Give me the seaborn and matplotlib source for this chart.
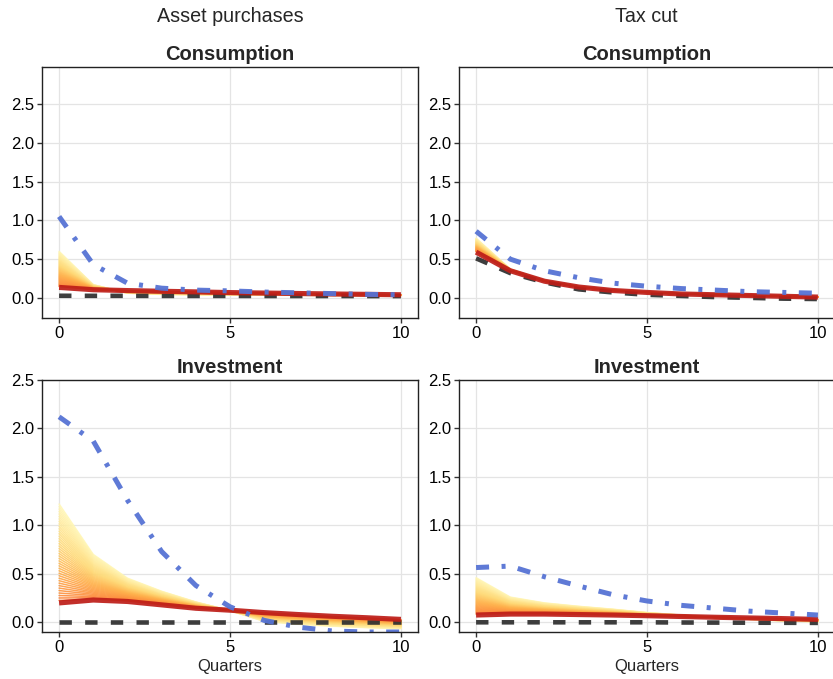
import matplotlib
matplotlib.use("Agg")
import matplotlib.pyplot as plt
import numpy as np
import pandas as pd
import seaborn as sns

# ---------------- data ----------------
quarters = list(range(11))
column_titles = ["Asset purchases", "Tax cut"]
row_titles = ["Consumption", "Investment"]

# Asset purchases - Consumption
ap_cons_blue = [1.05, 0.43, 0.19, 0.125, 0.10, 0.09, 0.075, 0.065, 0.055, 0.045, 0.04]
ap_cons_red = [0.135, 0.105, 0.094, 0.085, 0.077, 0.068, 0.062, 0.056, 0.05, 0.045, 0.04]
ap_cons_black = [0.027, 0.026, 0.026, 0.025, 0.025, 0.025, 0.024, 0.024, 0.024, 0.023, 0.023]
ap_cons_fan_edge = [0.60, 0.17, 0.06, 0.045, 0.04, 0.037, 0.035, 0.033, 0.031, 0.03, 0.03]

# Tax cut - Consumption
tc_cons_blue = [0.86, 0.50, 0.35, 0.26, 0.19, 0.15, 0.12, 0.10, 0.08, 0.07, 0.06]
tc_cons_red = [0.59, 0.35, 0.215, 0.14, 0.095, 0.07, 0.05, 0.04, 0.03, 0.02, 0.01]
tc_cons_black = [0.51, 0.32, 0.20, 0.11, 0.07, 0.04, 0.025, 0.01, 0.0, -0.01, -0.015]
tc_cons_fan_edge = [0.77, 0.37, 0.225, 0.145, 0.10, 0.075, 0.055, 0.045, 0.035, 0.025, 0.015]

# Asset purchases - Investment
ap_inv_blue = [2.12, 1.87, 1.26, 0.73, 0.38, 0.16, 0.02, -0.05, -0.09, -0.10, -0.10]
ap_inv_red = [0.20, 0.23, 0.215, 0.18, 0.145, 0.125, 0.10, 0.08, 0.062, 0.047, 0.03]
ap_inv_black = [0.005, 0.005, 0.005, 0.005, 0.005, 0.005, 0.005, 0.005, 0.005, 0.005, 0.005]
ap_inv_fan_edge = [1.22, 0.70, 0.455, 0.32, 0.21, 0.12, 0.01, -0.02, -0.04, -0.055, -0.065]

# Tax cut - Investment
tc_inv_blue = [0.565, 0.58, 0.47, 0.375, 0.285, 0.22, 0.175, 0.145, 0.115, 0.095, 0.075]
tc_inv_red = [0.075, 0.085, 0.085, 0.08, 0.075, 0.068, 0.06, 0.052, 0.045, 0.038, 0.03]
tc_inv_black = [0.0, 0.0, 0.0, 0.0, 0.0, 0.0, -0.002, -0.003, -0.004, -0.005, -0.006]
tc_inv_fan_edge = [0.46, 0.26, 0.20, 0.165, 0.135, 0.10, 0.075, 0.05, 0.03, 0.015, 0.005]

yticks_vals = [0.0, 0.5, 1.0, 1.5, 2.0, 2.5]
xticks_vals = [0, 5, 10]

panels = {
    (0, 0): (ap_cons_blue, ap_cons_red, ap_cons_black, ap_cons_fan_edge),
    (0, 1): (tc_cons_blue, tc_cons_red, tc_cons_black, tc_cons_fan_edge),
    (1, 0): (ap_inv_blue, ap_inv_red, ap_inv_black, ap_inv_fan_edge),
    (1, 1): (tc_inv_blue, tc_inv_red, tc_inv_black, tc_inv_fan_edge),
}

# ---------------- style ----------------
sns.set_theme(style="whitegrid")
plt.rcParams["font.family"] = ["Liberation Sans", "DejaVu Sans"]
plt.rcParams.update({
    "axes.edgecolor": "#222222",
    "axes.linewidth": 1.0,
    "grid.color": "#e4e4e4",
    "grid.linewidth": 0.9,
    "xtick.color": "#333333",
    "ytick.color": "#333333",
    "xtick.labelcolor": "black",
    "ytick.labelcolor": "black",
})

W, H = 833, 679
fig = plt.figure(figsize=(W / 100, H / 100), dpi=100)

col_x = [(42, 418), (459, 835)]
row_y = [(67, 318), (380, 632)]
ylims = [(-0.26, 2.98), (-0.1, 2.5)]

BLUE = "#5673d4"
RED = "#bd1d18"
BLACK = "#333333"
N_FAN = 40
cmap = plt.get_cmap("YlOrRd")

for (r, c), (blue, red, black, edge) in panels.items():
    x0, x1 = col_x[c]
    yt, yb = row_y[r]
    ax = fig.add_axes([x0 / W, 1 - yb / H, (x1 - x0) / W, (yb - yt) / H])

    red_a = np.asarray(red)
    edge_a = np.asarray(edge)
    ts = np.linspace(1.0, 1.0 / N_FAN, N_FAN)
    fan_rows = []
    for k, t in enumerate(ts):
        vals = red_a + t * (edge_a - red_a)
        for q, v in zip(quarters, vals):
            fan_rows.append({"q": q, "v": v, "member": k})
    fan_df = pd.DataFrame(fan_rows)
    fan_colors = [cmap(0.06 + 0.48 * (1 - t)) for t in ts]
    sns.lineplot(data=fan_df, x="q", y="v", hue="member", palette=fan_colors,
                 lw=1.1, legend=False, estimator=None, ax=ax, alpha=0.9)

    sns.lineplot(x=quarters, y=black, color=BLACK, lw=3.3, ax=ax, alpha=0.95)
    ax.get_lines()[-1].set_dashes([2.7, 2.9])
    sns.lineplot(x=quarters, y=red, color=RED, lw=3.7, ax=ax, alpha=0.92)
    ax.get_lines()[-1].set_solid_capstyle("butt")
    sns.lineplot(x=quarters, y=blue, color=BLUE, lw=3.6, ax=ax, alpha=0.95)
    ax.get_lines()[-1].set_dashes([2.6, 2.5, 0.8, 2.5])

    ax.set_xlim(-0.5, 10.5)
    ax.set_ylim(*ylims[r])
    ax.set_xticks(xticks_vals)
    ax.set_yticks(yticks_vals)
    ax.set_yticklabels([f"{v:.1f}" for v in yticks_vals])
    ax.tick_params(axis="both", which="major", length=3.5, width=1, pad=2,
                   labelsize=12, bottom=True, left=True)
    ax.grid(True)
    for s in ax.spines.values():
        s.set_visible(True)
        s.set_color("#222222")
        s.set_linewidth(1.0)
    if c == 1:
        ax.spines["right"].set_visible(False)
    ax.set_title(row_titles[r], fontsize=14.5, fontweight="bold", pad=5)
    ax.set_ylabel("")
    if r == 1:
        ax.set_xlabel("Quarters", fontsize=12, labelpad=3)
    else:
        ax.set_xlabel("")

for c, title in enumerate(column_titles):
    x0, x1 = col_x[c]
    if c == 1:
        x1 = 833
    fig.text((x0 + x1) / 2 / W, 1 - 16 / H, title, ha="center", va="center",
             fontsize=14.2)

fig.savefig("out.png", dpi=100)
